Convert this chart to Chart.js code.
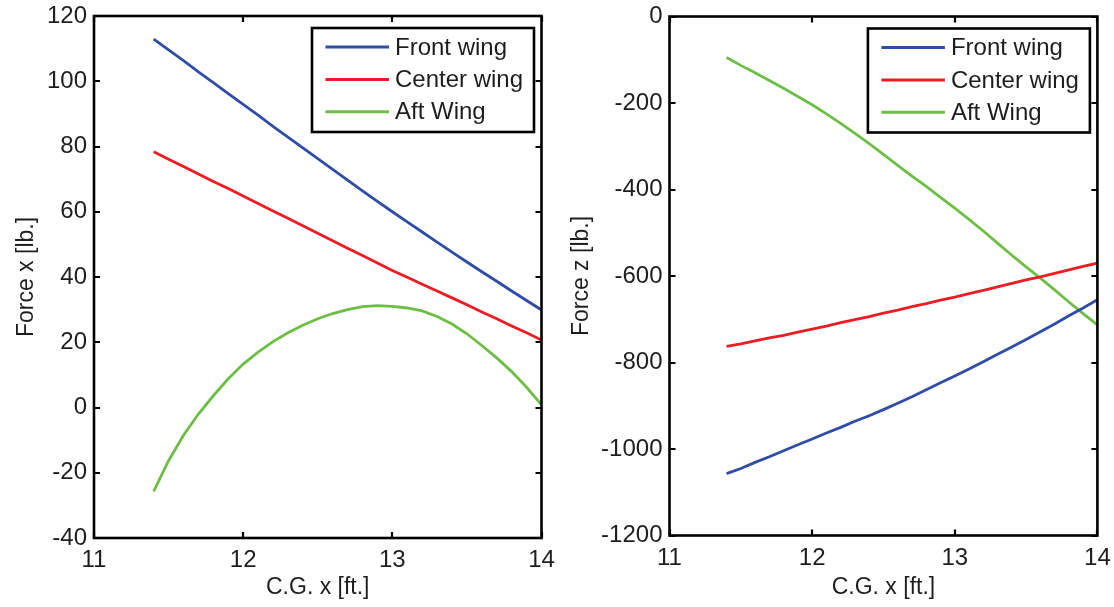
<!DOCTYPE html>
<html>
<head>
<meta charset="utf-8">
<script src="https://cdn.jsdelivr.net/npm/chart.js@4.4.1/dist/chart.umd.min.js"></script>
<style>
  html, body { margin: 0; padding: 0; background: #fff; }
  #wrap { position: relative; width: 1114px; height: 607px; overflow: hidden; background: #fff; }
  canvas { position: absolute; top: 0; }
  #chartX { left: 0; }
  #chartZ { left: 560px; }
</style>
</head>
<body>
<div id="wrap">
  <canvas id="chartX" width="560" height="607"></canvas>
  <canvas id="chartZ" width="554" height="607"></canvas>
</div>
<script>
// C.G. position sweep [ft.]
const cgX = [11.4, 11.5, 11.6, 11.7, 11.8, 11.9, 12.0, 12.1, 12.2, 12.3, 12.4, 12.5, 12.6, 12.7,
             12.8, 12.9, 13.0, 13.1, 13.2, 13.3, 13.4, 13.5, 13.6, 13.7, 13.8, 13.9, 14.0];

const seriesNames = ['Front wing', 'Center wing', 'Aft Wing'];

// Force x [lb.]
const forceXFront  = [112.9, 109.6, 106.3, 102.9, 99.6, 96.2, 92.9, 89.6, 86.2, 82.9, 79.6, 76.3, 73.0, 69.7,
                      66.4, 63.2, 60.0, 56.9, 53.8, 50.7, 47.6, 44.6, 41.6, 38.7, 35.7, 32.8, 29.9];
const forceXCenter = [78.4, 76.1, 73.9, 71.6, 69.3, 67.1, 64.8, 62.5, 60.2, 58.0, 55.7, 53.4, 51.1, 48.8,
                      46.6, 44.3, 42.0, 39.9, 37.8, 35.7, 33.6, 31.5, 29.3, 27.2, 25.0, 22.9, 20.7];
const forceXAft    = [-25.7, -16.3, -8.5, -2.0, 3.6, 8.8, 13.3, 17.0, 20.2, 22.9, 25.2, 27.2, 28.8, 30.0,
                      30.9, 31.2, 31.0, 30.5, 29.6, 27.9, 25.6, 22.6, 19.0, 15.2, 11.0, 6.2, 0.8];

// Force z [lb.]
const forceZFront  = [-1057, -1045, -1031, -1018, -1004, -990, -977, -963, -950, -936, -923, -909, -894, -879,
                      -863, -847, -831, -815, -798, -781, -764, -747, -729, -711, -692, -674, -655];
const forceZCenter = [-763, -757, -750, -743, -737, -730, -723, -716, -708, -701, -694, -686, -679, -671,
                      -664, -656, -649, -641, -633, -625, -617, -609, -602, -594, -586, -578, -570];
const forceZAft    = [-95, -113, -130, -148, -166, -185, -204, -225, -247, -270, -294, -319, -344, -369,
                      -393, -418, -443, -469, -496, -524, -552, -579, -605, -632, -660, -687, -713];

// Axis ranges and tick spacing
const xRange = [11, 14], xStep = 1;
const yRangeX = [-40, 120], yStepX = 20;
const yRangeZ = [-1200, 0], yStepZ = 200;

const lineColors = ['#2f4ca6', '#ed1c24', '#6dbe45'];
const FONT = '"Liberation Sans", Arial, Helvetica, sans-serif';
const TEXT = '#1e1e1e';

function points(ys) { return cgX.map((x, i) => ({ x: x, y: ys[i] })); }

function datasets(list) {
  return list.map((ys, i) => ({
    label: seriesNames[i],
    data: points(ys),
    borderColor: lineColors[i],
    backgroundColor: lineColors[i],
    borderWidth: 2.8,
    pointRadius: 0,
    tension: 0,
    fill: false
  }));
}

// Boxed axes with inward ticks on all four sides, plus a framed legend in the upper right
const boxPlugin = {
  id: 'boxAxes',
  afterDatasetsDraw(chart) {
    const { ctx, chartArea: a, scales } = chart;
    ctx.save();
    ctx.strokeStyle = '#000';
    ctx.lineWidth = 2.6;
    ctx.strokeRect(a.left, a.top, a.right - a.left, a.bottom - a.top);

    const tl = 6;
    ctx.lineWidth = 2.2;
    ctx.beginPath();
    scales.x.ticks.forEach(t => {
      const px = Math.round(scales.x.getPixelForValue(t.value));
      ctx.moveTo(px, a.bottom); ctx.lineTo(px, a.bottom - tl);
      ctx.moveTo(px, a.top);    ctx.lineTo(px, a.top + tl);
    });
    scales.y.ticks.forEach(t => {
      const py = Math.round(scales.y.getPixelForValue(t.value));
      ctx.moveTo(a.left, py);  ctx.lineTo(a.left + tl, py);
      ctx.moveTo(a.right, py); ctx.lineTo(a.right - tl, py);
    });
    ctx.stroke();

    // legend
    const w = 222, h = 104;
    const lx = a.right - 7.5 - w, ly = a.top + 12;
    ctx.fillStyle = '#fff';
    ctx.fillRect(lx, ly, w, h);
    ctx.lineWidth = 2.6;
    ctx.strokeStyle = '#000';
    ctx.strokeRect(lx, ly, w, h);
    ctx.font = '24px ' + FONT;
    ctx.textBaseline = 'middle';
    ctx.textAlign = 'left';
    chart.data.datasets.forEach((ds, i) => {
      const ry = ly + 19 + i * 32.4;
      ctx.strokeStyle = ds.borderColor;
      ctx.lineWidth = 3;
      ctx.beginPath();
      ctx.moveTo(lx + 13.5, ry); ctx.lineTo(lx + 77, ry);
      ctx.stroke();
      ctx.fillStyle = TEXT;
      ctx.fillText(ds.label, lx + 83, ry + 1);
    });
    ctx.restore();
  }
};

function makeChart(id, list, yRange, yStep, yTitle, geom) {
  return new Chart(document.getElementById(id), {
    type: 'line',
    data: { datasets: datasets(list) },
    options: {
      responsive: false,
      animation: false,
      devicePixelRatio: 1,
      layout: { padding: { top: geom.top, right: geom.right, left: 0, bottom: 0 } },
      plugins: { legend: { display: false }, tooltip: { enabled: false } },
      scales: {
        x: {
          type: 'linear',
          min: xRange[0], max: xRange[1],
          ticks: { stepSize: xStep, padding: 8, color: TEXT, font: { family: FONT, size: 24 }, maxRotation: 0,
                   callback: v => String(v) },
          grid: { display: false, drawTicks: false },
          border: { display: false },
          title: { display: true, text: 'C.G. x [ft.]', color: TEXT, font: { family: FONT, size: 23 }, padding: { top: 0, bottom: 6 } },
          afterFit(s) { s.height = geom.xh; s.paddingLeft = 0; s.paddingRight = 0; }
        },
        y: {
          type: 'linear',
          min: yRange[0], max: yRange[1],
          ticks: { stepSize: yStep, padding: 7, color: TEXT, font: { family: FONT, size: 24 },
                   callback: v => String(v) },
          grid: { display: false, drawTicks: false },
          border: { display: false },
          title: { display: true, text: yTitle, color: TEXT, font: { family: FONT, size: 23 }, padding: { top: geom.tp, bottom: 0 } },
          afterFit(s) { s.width = geom.yw; s.paddingTop = 0; s.paddingBottom = 0; }
        }
      }
    },
    plugins: [boxPlugin]
  });
}

makeChart('chartX', [forceXFront, forceXCenter, forceXAft], yRangeX, yStepX, 'Force x [lb.]',
          { top: 16, right: 18.5, xh: 69, yw: 94, tp: 13 });
makeChart('chartZ', [forceZFront, forceZCenter, forceZAft], yRangeZ, yStepZ, 'Force z [lb.]',
          { top: 16.5, right: 16.6, xh: 71.5, yw: 109.5, tp: 8 });
</script>
</body>
</html>
